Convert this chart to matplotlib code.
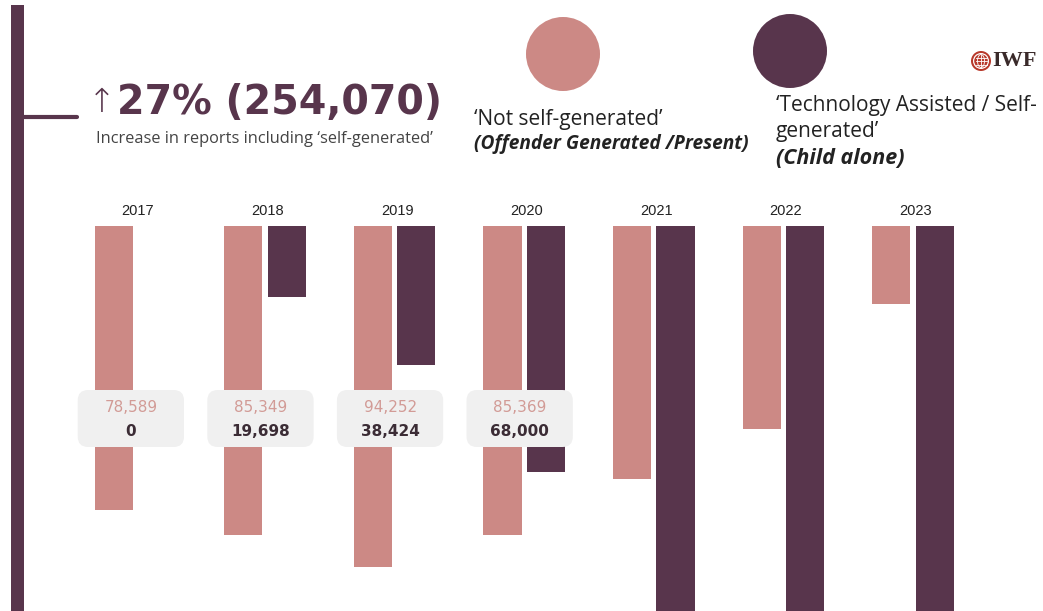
import matplotlib.pyplot as plt
from matplotlib.patches import FancyBboxPatch, Circle, Rectangle, Ellipse
import matplotlib.transforms as mtransforms

years = ['2017', '2018', '2019', '2020', '2021', '2022', '2023']
not_self_generated = [78589, 85349, 94252, 85369, 69913, 56225, 21582]
self_generated = [0, 19698, 38424, 68000, 182281, 199363, 254070]
boxed_years = 4  # value boxes only for the first four years

pink = '#CC8985'
plum = '#58354C'
ink = '#222222'

W, H = 1043, 611
fig = plt.figure(figsize=(W / 100, H / 100), dpi=100)
ax = fig.add_axes([0, 0, 1, 1])
ax.axis('off')

# bars hang down from a baseline 226 px below the top
px_per_k = 3.617
ax.set_xlim(-135.4 / 129.6, (W - 135.4) / 129.6)
ax.set_ylim((H - 226) / px_per_k * 1000, -226 / px_per_k * 1000)

bw = 0.295
off = 0.168
x = list(range(len(years)))
ax.bar([i - off for i in x], not_self_generated, width=bw, color=pink, align='center')
ax.bar([i + off for i in x], self_generated, width=bw, color=plum, align='center')

# x in data, y as fraction of the figure height (0 = bottom)
blend = mtransforms.blended_transform_factory(ax.transData, ax.transAxes)


def fy(py):
    return 1 - py / H


for i, yr in enumerate(years):
    ax.text(i + 0.02, fy(211), yr, transform=blend, ha='center', va='center',
            fontsize=10.5, color=ink, family='Liberation Sans')

for i in range(boxed_years):
    bx = i - 0.035
    box = FancyBboxPatch((bx - 0.41, fy(447)), 0.82, fy(390) - fy(447),
                         boxstyle='round,pad=0,rounding_size=0.08',
                         mutation_aspect=129.6 / H,
                         transform=blend, facecolor='#F0F0F0', edgecolor='none', zorder=3)
    ax.add_patch(box)
    ax.text(bx, fy(408), f'{not_self_generated[i]:,}', transform=blend, ha='center',
            va='center', fontsize=11, color='#D29B96', zorder=4)
    ax.text(bx, fy(431), f'{self_generated[i]:,}', transform=blend, ha='center',
            va='center', fontsize=11, color='#3B2C35', fontweight='bold', zorder=4)

# overlay in pixel units for the header, legend and side rule
deco = fig.add_axes([0, 0, 1, 1], facecolor='none')
deco.set_xlim(0, W)
deco.set_ylim(H, 0)
deco.axis('off')

deco.add_patch(Rectangle((11, 5), 13, H - 5, facecolor=plum, edgecolor='none'))
deco.plot([24, 77], [117, 117], color=plum, lw=3, solid_capstyle='round')

deco.text(88, 102, '\u2191', fontsize=24, color=plum, va='center', ha='left',
          family='DejaVu Sans', fontweight='light')
deco.text(117, 103, '27% (254,070)', fontsize=28.5, fontweight='bold', color=plum,
          va='center', ha='left', family='DejaVu Sans')
deco.text(96, 139, 'Increase in reports including \u2018self-generated\u2019', fontsize=11.8,
          color='#444444', va='center', ha='left', family='Open Sans')

# legend
deco.add_patch(Circle((563, 54), 37, facecolor=pink, edgecolor='none'))
deco.add_patch(Circle((790, 51), 37, facecolor=plum, edgecolor='none'))

deco.text(474, 119, '\u2018Not self-generated\u2019', fontsize=15, color=ink,
          va='center', ha='left', family='Open Sans')
deco.text(474, 144, '(Offender Generated /Present)', fontsize=13.8, color=ink,
          fontweight='bold', style='italic', va='center', ha='left', family='Open Sans')
deco.text(776, 106, '\u2018Technology Assisted / Self-', fontsize=15, color=ink,
          va='center', ha='left', family='Open Sans')
deco.text(776, 132, 'generated\u2019', fontsize=15, color=ink,
          va='center', ha='left', family='Open Sans')
deco.text(776, 159, '(Child alone)', fontsize=15.5, color=ink,
          fontweight='bold', style='italic', va='center', ha='left', family='Open Sans')

# IWF mark: ringed globe and wordmark
red = '#B8392B'
deco.add_patch(Circle((981, 61), 10, facecolor=red, edgecolor='none'))
deco.add_patch(Circle((981, 61), 8, facecolor='white', edgecolor='none'))
deco.add_patch(Circle((981, 61), 6.8, facecolor=red, edgecolor='none'))
for dy in (-3.5, 0, 3.5):
    deco.plot([975.5, 986.5], [61 + dy, 61 + dy], color='white', lw=0.6)
deco.plot([981, 981], [54.5, 67.5], color='white', lw=0.6)
deco.add_patch(Ellipse((981, 61), 7, 13, facecolor='none', edgecolor='white', lw=0.6))
deco.text(992, 61, 'IWF', fontsize=16, fontweight='bold', color='#3A2A2A',
          va='center', ha='left', family='Liberation Serif')

fig.savefig('out.png', dpi=100, facecolor='white')
